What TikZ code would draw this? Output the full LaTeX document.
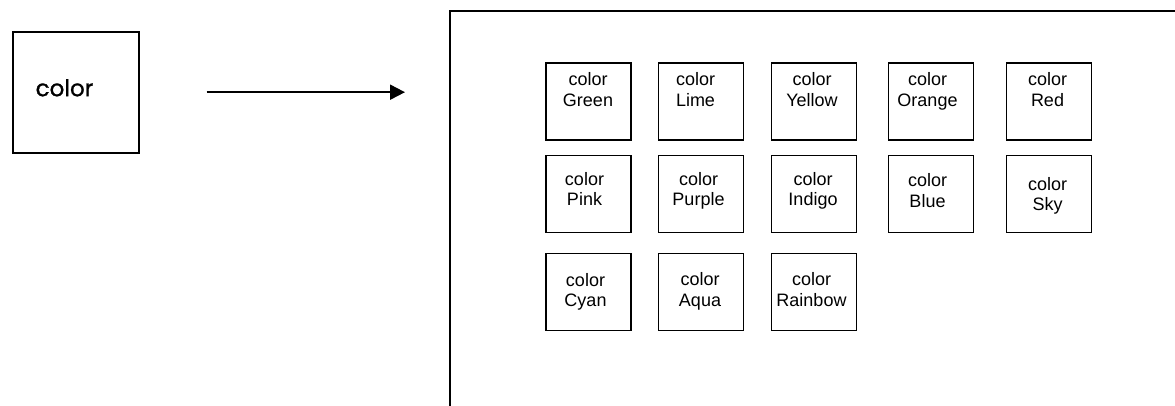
\documentclass[tikz,border=0pt]{standalone}
\usepackage{fontspec}
\setmainfont{Liberation Sans}
\newfontfamily\poppins[FakeBold=1]{Poppins}
\usetikzlibrary{arrows.meta}

\begin{document}
\begin{tikzpicture}[x=1pt,y=-1pt,>={Triangle[length=15pt,width=15pt]},
    cell/.style={draw=black,line width=1.2pt,minimum width=85pt,minimum height=77pt,outer sep=0pt},
    celltext/.style={align=center,inner sep=0pt,font=\fontsize{18}{20.5}\selectfont,
        execute at begin node=\strut,execute at end node=\strut}]
    \path[use as bounding box,clip] (0,0) rectangle (1175,406);
    \node[draw=black,line width=2pt,minimum width=125.7pt,minimum height=120.7pt,outer sep=0pt] (src) at (75.7,92.2) {};
    \node[anchor=base,inner sep=0pt,font=\poppins\fontsize{23}{27}\selectfont] (srctext) at (64.5,96.2) {color};
    \node[draw=black,line width=2.8pt,anchor=north west,minimum width=800pt,minimum height=450pt,outer sep=0pt] (panel) at (450,11) {};
    \draw[->,line width=2pt,shorten <=68pt,shorten >=45pt] (src.east) -- (src.east -| panel.west);
    % first row
    \node[cell] (green) at (588.5,101.5) {};
    \node[celltext] (greentext) at (588,92.5) {color\\Green};
    \node[cell] (lime) at (701.3,101.5) {};
    \node[celltext] (limetext) at (695.5,92.5) {color\\Lime};
    \node[cell] (yellow) at (813.9,101.5) {};
    \node[celltext] (yellowtext) at (812,92.5) {color\\Yellow};
    \node[cell] (orange) at (931.3,101.5) {};
    \node[celltext] (orangetext) at (927.5,92.5) {color\\Orange};
    \node[cell] (red) at (1049.2,101.5) {};
    \node[celltext] (redtext) at (1047.5,92.5) {color\\Red};
    % second row
    \node[cell] (pink) at (588.5,194) {};
    \node[celltext] (pinktext) at (584.5,192) {color\\Pink};
    \node[cell] (purple) at (701.3,194) {};
    \node[celltext] (purpletext) at (698.5,192) {color\\Purple};
    \node[cell] (indigo) at (813.9,194) {};
    \node[celltext] (indigotext) at (813,192) {color\\Indigo};
    \node[cell] (blue) at (931.3,194) {};
    \node[celltext] (bluetext) at (927.5,193.5) {color\\Blue};
    \node[cell] (sky) at (1049.2,194) {};
    \node[celltext] (skytext) at (1047.5,197) {color\\Sky};
    % third row
    \node[cell] (cyan) at (588.5,292) {};
    \node[celltext] (cyantext) at (585.5,293) {color\\Cyan};
    \node[cell] (aqua) at (701.3,292) {};
    \node[celltext] (aquatext) at (700,292.5) {color\\Aqua};
    \node[cell] (rainbow) at (813.9,292) {};
    \node[celltext] (rainbowtext) at (811.5,292.5) {color\\Rainbow};
\end{tikzpicture}
\end{document}
